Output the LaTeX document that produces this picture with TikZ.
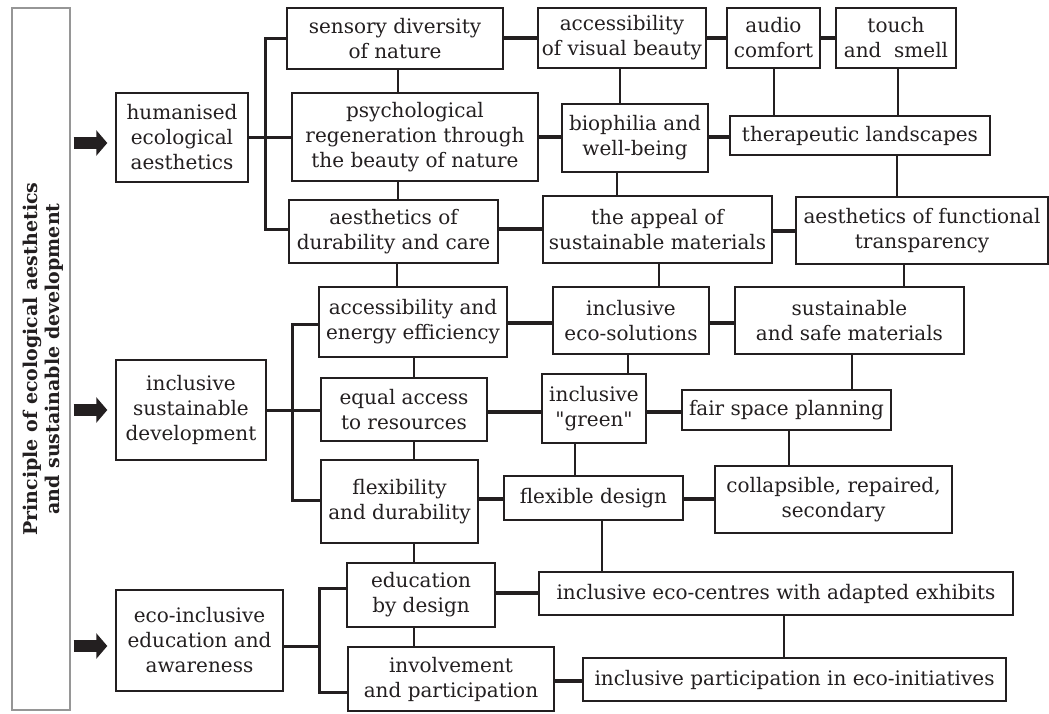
\documentclass[tikz,border=0pt]{standalone}
\usepackage{fontspec}
\setmainfont{DejaVu Serif}[Ligatures=TeXOff]
\usetikzlibrary{arrows.meta}
\definecolor{ink}{RGB}{35,31,32}
\definecolor{frame}{RGB}{150,150,150}
\tikzset{
  box/.style={draw=ink, line width=1.4pt, fill=white, text=ink, align=center,
    inner sep=0pt, font=\fontsize{20}{25}\selectfont},
  hconn/.style={draw=ink, line width=3.4pt},
  vconn/.style={draw=ink, line width=2.2pt},
  brace/.style={draw=ink, line width=3pt},
  blockarrow/.style={draw=ink, line width=12pt,
    -{Triangle[length=11pt,width=25pt]}, shorten <=3pt, shorten >=8pt},
}
\newcommand{\bx}[6]{\node[box, minimum width=#4pt, minimum height=#5pt] (#1) at (#2,#3) {#6};}
\begin{document}
\begin{tikzpicture}[x=1pt,y=-1pt]
\useasboundingbox (0,0) rectangle (1049,713);

% title column
\node[draw=frame, line width=1.2pt, minimum width=58pt, minimum height=702pt, inner sep=0pt] (title) at (41,359) {};
\node[rotate=90, align=center, text=ink, font=\fontsize{19}{22}\selectfont\bfseries] (titletext) at ([xshift=2pt]title.center) {Principle of ecological aesthetics\\and sustainable development};

% first level
\bx{hum}{182}{137.5}{132}{89}{humanised\\ecological\\aesthetics}
\bx{isd}{191}{410}{150}{100}{inclusive\\sustainable\\development}
\bx{eie}{199.5}{640.5}{167}{101}{eco-inclusive\\education and\\awareness}

% humanised ecological aesthetics
\bx{sens}{395}{38.5}{216}{61}{sensory diversity\\of nature}
\bx{psych}{415}{137}{246}{88}{psychological\\regeneration through\\the beauty of nature}
\bx{adc}{393.5}{231.5}{209}{63}{aesthetics of\\durability and care}
\bx{avb}{622}{38}{168}{60}{accessibility\\of visual beauty}
\bx{audio}{773.5}{38}{93}{60}{audio\\comfort}
\bx{touch}{896}{38}{120}{60}{touch\\and~ smell}
\bx{bio}{635}{138}{146}{68}{biophilia and\\well-being}
\bx{ther}{860}{135.5}{260}{39}{therapeutic landscapes}
\bx{appeal}{657.5}{229.5}{229}{67}{the appeal of\\sustainable materials}
\bx{func}{922}{230.5}{252}{67}{aesthetics of functional\\transparency}

% inclusive sustainable development
\bx{aee}{413}{322}{188}{70}{accessibility and\\energy efficiency}
\bx{ecosol}{631}{320.5}{156}{67}{inclusive\\eco-solutions}
\bx{safe}{849.5}{320.5}{229}{67}{sustainable\\and safe materials}
\bx{equal}{404}{409.5}{166}{63}{equal access\\to resources}
\bx{green}{594}{408.5}{104}{69}{inclusive\\"green"}
\bx{fair}{786.5}{410}{209}{40}{fair space planning}
\bx{flexdur}{399.5}{501.5}{157}{83}{flexibility\\and durability}
\bx{flexdes}{593.5}{498}{179}{44}{flexible design}
\bx{coll}{833.5}{499.5}{237}{67}{collapsible, repaired,\\secondary}

% eco-inclusive education and awareness
\bx{edu}{421}{595}{148}{64}{education\\by design}
\bx{inv}{451}{679}{206}{64}{involvement\\and participation}
\bx{centres}{776}{593.5}{474}{43}{inclusive eco-centres with adapted exhibits}
\bx{part}{794.5}{679.5}{423}{43}{inclusive participation in eco-initiatives}

% block arrows from the title column
\draw[blockarrow] ([yshift=-5.5pt]title.east |- hum.west) -- ([yshift=-5.5pt]hum.west);
\draw[blockarrow] (title.east |- isd.west) -- (isd.west);
\draw[blockarrow] ([yshift=-5.5pt]title.east |- eie.west) -- ([yshift=-5.5pt]eie.west);

% branching brackets
\coordinate (b1t) at (265,38);
\coordinate (b1b) at (265,229);
\draw[brace] (sens.west |- b1t) -- (b1t) -- (b1b) -- (adc.west |- b1b);
\draw[brace] (hum.east |- 0,137) -- (psych.west |- 0,137);

\coordinate (b2t) at (292,324);
\coordinate (b2b) at (292,500);
\draw[brace] (aee.west |- b2t) -- (b2t) -- (b2b) -- (flexdur.west |- b2b);
\draw[brace] (isd.east |- 0,410) -- (equal.west |- 0,410);

\coordinate (b3t) at (319,588);
\coordinate (b3b) at (319,692);
\draw[brace] (edu.west |- b3t) -- (b3t) -- (b3b) -- (inv.west |- b3b);
\draw[brace] (eie.east |- 0,646) -- (b3t |- 0,646);

% horizontal links
\draw[hconn] (sens.east |- 0,38) -- (avb.west |- 0,38);
\draw[hconn] (avb.east |- 0,38) -- (audio.west |- 0,38);
\draw[hconn] (audio.east |- 0,38) -- (touch.west |- 0,38);
\draw[hconn] (psych.east |- 0,137) -- (bio.west |- 0,137);
\draw[hconn] (bio.east |- 0,137) -- (ther.west |- 0,137);
\draw[hconn] (adc.east |- 0,229) -- (appeal.west |- 0,229);
\draw[hconn] (appeal.east |- 0,231) -- (func.west |- 0,231);
\draw[hconn] (aee.east |- 0,323) -- (ecosol.west |- 0,323);
\draw[hconn] (ecosol.east |- 0,323) -- (safe.west |- 0,323);
\draw[hconn] (equal.east |- 0,412) -- (green.west |- 0,412);
\draw[hconn] (green.east |- 0,412) -- (fair.west |- 0,412);
\draw[hconn] (flexdur.east |- 0,499) -- (flexdes.west |- 0,499);
\draw[hconn] (flexdes.east |- 0,499) -- (coll.west |- 0,499);
\draw[hconn] (edu.east |- 0,593) -- (centres.west |- 0,593);
\draw[hconn] (inv.east |- 0,681) -- (part.west |- 0,681);

% vertical links
\draw[vconn] (sens.south -| 398,0) -- (psych.north -| 398,0);
\draw[vconn] (psych.south -| 398,0) -- (adc.north -| 398,0);
\draw[vconn] (avb.south -| 620,0) -- (bio.north -| 620,0);
\draw[vconn] (audio.south -| 774,0) -- (ther.north -| 774,0);
\draw[vconn] (touch.south -| 898,0) -- (ther.north -| 898,0);
\draw[vconn] (bio.south -| 617,0) -- (appeal.north -| 617,0);
\draw[vconn] (ther.south -| 897,0) -- (func.north -| 897,0);
\draw[vconn] (adc.south -| 397,0) -- (aee.north -| 397,0);
\draw[vconn] (appeal.south -| 659,0) -- (ecosol.north -| 659,0);
\draw[vconn] (func.south -| 904,0) -- (safe.north -| 904,0);
\draw[vconn] (aee.south -| 414,0) -- (equal.north -| 414,0);
\draw[vconn] (equal.south -| 414,0) -- (flexdur.north -| 414,0);
\draw[vconn] (ecosol.south -| 628,0) -- (green.north -| 628,0);
\draw[vconn] (safe.south -| 852,0) -- (fair.north -| 852,0);
\draw[vconn] (green.south -| 575,0) -- (flexdes.north -| 575,0);
\draw[vconn] (fair.south -| 789,0) -- (coll.north -| 789,0);
\draw[vconn] (flexdes.south -| 602,0) -- (centres.north -| 602,0);
\draw[vconn] (flexdur.south -| 414,0) -- (edu.north -| 414,0);
\draw[vconn] (edu.south -| 414,0) -- (inv.north -| 414,0);
\draw[vconn] (centres.south -| 784,0) -- (part.north -| 784,0);
\end{tikzpicture}
\end{document}
